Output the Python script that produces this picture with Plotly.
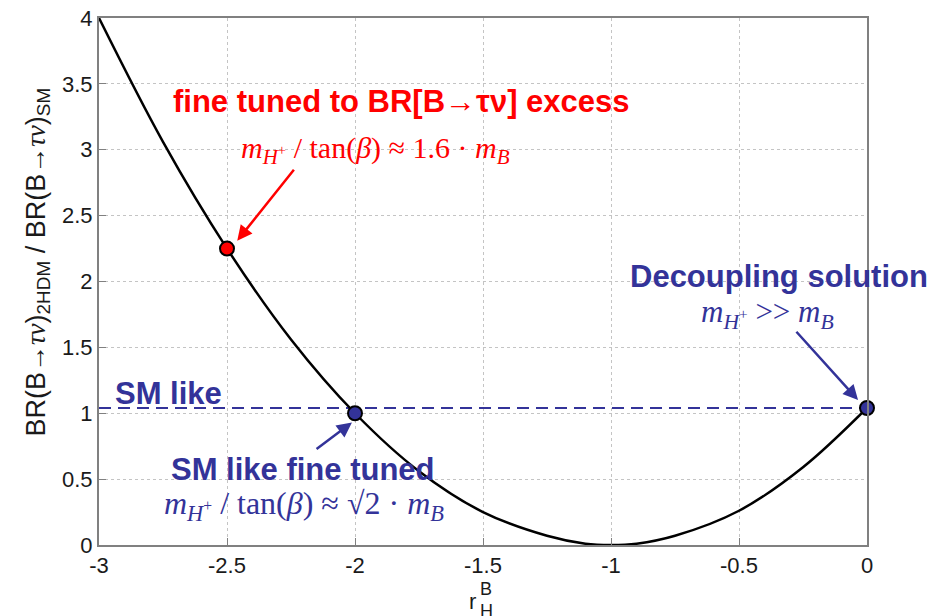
import plotly.graph_objects as go

# curve readings
r_vals = [-3.0, -2.75, -2.5, -2.25, -2.0, -1.75, -1.5, -1.25, -1.1, -1.0, -0.9, -0.75, -0.5, -0.25, 0.0]
br_vals = [4.0, 3.06, 2.25, 1.56, 1.0, 0.56, 0.25, 0.07, 0.01, 0.0, 0.01, 0.07, 0.26, 0.59, 1.04]

# highlighted points
red_pt_r = [-2.5]
red_pt_br = [2.25]
blue_pt_r = [-2.0, 0.0]
blue_pt_br = [1.0, 1.04]

# SM-like dashed line
sm_r = [-3.0, 0.0]
sm_br = [1.04, 1.04]

x_ticks = [-3, -2.5, -2, -1.5, -1, -0.5, 0]
x_tick_text = ["-3", "-2.5", "-2", "-1.5", "-1", "-0.5", "0"]
y_ticks = [0, 0.5, 1, 1.5, 2, 2.5, 3, 3.5, 4]
y_tick_text = ["0", "0.5", "1", "1.5", "2", "2.5", "3", "3.5", "4"]

RED = "#ff0000"
NAVY = "#333399"
SANS = "Liberation Sans, Arial, sans-serif"
SERIF = "Liberation Serif, Times New Roman, serif"

fig = go.Figure()
fig.add_trace(go.Scatter(x=sm_r, y=sm_br, mode="lines",
                         line=dict(color=NAVY, width=2, dash="12px,7px"), cliponaxis=False))
fig.add_trace(go.Scatter(x=r_vals, y=br_vals, mode="lines",
                         line=dict(color="black", width=2.5, shape="spline"), cliponaxis=False))
fig.add_trace(go.Scatter(x=red_pt_r, y=red_pt_br, mode="markers",
                         marker=dict(color=RED, size=14, line=dict(color="black", width=2)), cliponaxis=False))
fig.add_trace(go.Scatter(x=blue_pt_r, y=blue_pt_br, mode="markers",
                         marker=dict(color=NAVY, size=14, line=dict(color="black", width=2)), cliponaxis=False))

axis_common = dict(showgrid=True, gridcolor="#c4c4c4", griddash="dot", gridwidth=1,
                   showline=True, linecolor="#808080", linewidth=2, mirror=True,
                   ticks="inside", ticklen=7, tickcolor="#808080", zeroline=False,
                   automargin=False, ticklabeloverflow="allow",
                   tickfont=dict(family=SANS, size=22, color="#1a1a1a"))

fig.update_xaxes(range=[-3, 0], tickvals=x_ticks, ticktext=x_tick_text, **axis_common)
fig.update_yaxes(range=[0, 4], tickvals=y_ticks, ticktext=y_tick_text, ticklabelstandoff=0, **axis_common)

tn = "<span style='font-family:Liberation Serif'><i>τν</i></span>"
ann = []
# y axis title
ann.append(dict(xref="paper", yref="paper", x=-0.08, y=0.537, xanchor="center", yanchor="middle",
                textangle=-90, showarrow=False,
                text=f"BR(B→{tn})<sub>2HDM</sub> / BR(B→{tn})<sub>SM</sub>",
                font=dict(family=SANS, size=27, color="#1a1a1a")))
# x axis title r_H^B
ann.append(dict(xref="paper", yref="paper", x=0.493, y=-0.108, xanchor="right", yanchor="middle",
                showarrow=False, text="r", font=dict(family=SANS, size=22, color="#1a1a1a")))
ann.append(dict(xref="paper", yref="paper", x=0.494, y=-0.084, xanchor="left", yanchor="middle",
                showarrow=False, text="B", font=dict(family=SANS, size=18, color="#1a1a1a")))
ann.append(dict(xref="paper", yref="paper", x=0.494, y=-0.126, xanchor="left", yanchor="middle",
                showarrow=False, text="H", font=dict(family=SANS, size=18, color="#1a1a1a")))

# red annotations
ann.append(dict(x=-1.82, y=3.37, xref="x", yref="y", showarrow=False,
                text="<b>fine tuned to BR[B→τν] excess</b>", font=dict(family=SANS, size=31, color=RED)))
ann.append(dict(x=-1.92, y=3.0, xref="x", yref="y", showarrow=False,
                text="<i>m</i><sub><i>H</i><sup>+</sup></sub> / tan(<i>β</i>) ≈ 1.6 · <i>m</i><sub><i>B</i></sub>",
                font=dict(family=SERIF, size=30, color=RED)))
ann.append(dict(x=-2.46, y=2.31, xref="x", yref="y", ax=-2.234, ay=2.86, axref="x", ayref="y",
                showarrow=True, arrowhead=2, arrowsize=1.2, arrowwidth=2.5, arrowcolor=RED,
                standoff=0, text=""))

# decoupling
ann.append(dict(x=-0.344, y=2.04, xref="x", yref="y", showarrow=False,
                text="<b>Decoupling solution</b>", font=dict(family=SANS, size=31, color=NAVY)))
ann.append(dict(x=-0.39, y=1.75, xref="x", yref="y", showarrow=False,
                text="<i>m</i><sub><i>H</i><sup>+</sup></sub> >> <i>m</i><sub><i>B</i></sub>",
                font=dict(family=SERIF, size=31, color=NAVY)))
ann.append(dict(x=-0.035, y=1.10, xref="x", yref="y", ax=-0.281, ay=1.63, axref="x", ayref="y",
                showarrow=True, arrowhead=2, arrowsize=1.2, arrowwidth=2.5, arrowcolor=NAVY,
                standoff=0, text=""))

# SM like
ann.append(dict(x=-2.945, y=1.15, xref="x", yref="y", xanchor="left", showarrow=False,
                text="<b>SM like</b>", font=dict(family=SANS, size=31, color=NAVY)))
ann.append(dict(x=-2.203, y=0.57, xref="x", yref="y", showarrow=False,
                text="<b>SM like fine tuned</b>", font=dict(family=SANS, size=31, color=NAVY)))
ann.append(dict(x=-2.2, y=0.30, xref="x", yref="y", showarrow=False,
                text="<i>m</i><sub><i>H</i><sup>+</sup></sub> / tan(<i>β</i>) ≈ √2 · <i>m</i><sub><i>B</i></sub>",
                font=dict(family=SERIF, size=32, color=NAVY)))
ann.append(dict(x=-2.012, y=0.93, xref="x", yref="y", ax=-2.156, ay=0.72, axref="x", ayref="y",
                showarrow=True, arrowhead=2, arrowsize=1.2, arrowwidth=2.5, arrowcolor=NAVY,
                standoff=0, text=""))

fig.update_layout(width=941, height=616, plot_bgcolor="white", paper_bgcolor="white",
                  showlegend=False, margin=dict(l=91, r=82, t=10, b=79),
                  annotations=ann)

fig.write_html("out.html")
